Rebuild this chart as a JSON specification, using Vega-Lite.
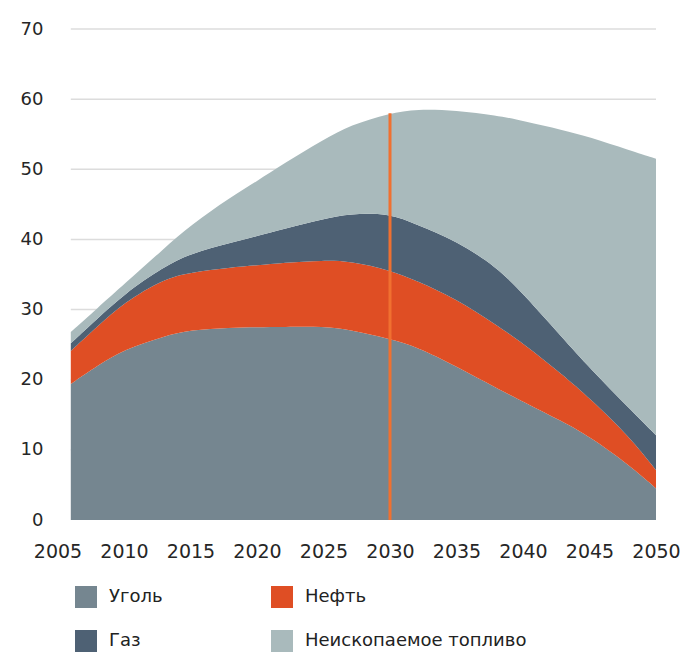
{
  "$schema": "https://vega.github.io/schema/vega-lite/v6.json",
  "autosize": {"type": "none"},
  "width": 598.5,
  "height": 491,
  "padding": {"left": 57.5, "top": 29, "right": 27, "bottom": 134},
  "background": "white",
  "config": {
    "view": {"stroke": null},
    "font": "DejaVu Sans",
    "axis": {"labelFont": "DejaVu Sans", "labelColor": "#262626"}
  },
  "datasets": {
    "emissions": [
      {"year": 2006, "source": "Уголь", "ord": 1, "value": 19.4},
      {"year": 2006, "source": "Нефть", "ord": 2, "value": 4.7},
      {"year": 2006, "source": "Газ", "ord": 3, "value": 1.1},
      {"year": 2006, "source": "Неископаемое топливо", "ord": 4, "value": 1.6},
      {"year": 2008, "source": "Уголь", "ord": 1, "value": 22.0},
      {"year": 2008, "source": "Нефть", "ord": 2, "value": 5.6},
      {"year": 2008, "source": "Газ", "ord": 3, "value": 1.1},
      {"year": 2008, "source": "Неископаемое топливо", "ord": 4, "value": 1.5},
      {"year": 2010, "source": "Уголь", "ord": 1, "value": 24.3},
      {"year": 2010, "source": "Нефть", "ord": 2, "value": 6.7},
      {"year": 2010, "source": "Газ", "ord": 3, "value": 1.2},
      {"year": 2010, "source": "Неископаемое топливо", "ord": 4, "value": 1.4},
      {"year": 2013, "source": "Уголь", "ord": 1, "value": 26.2},
      {"year": 2013, "source": "Нефть", "ord": 2, "value": 8.2},
      {"year": 2013, "source": "Газ", "ord": 3, "value": 1.7},
      {"year": 2013, "source": "Неископаемое топливо", "ord": 4, "value": 2.6},
      {"year": 2015, "source": "Уголь", "ord": 1, "value": 27.1},
      {"year": 2015, "source": "Нефть", "ord": 2, "value": 8.2},
      {"year": 2015, "source": "Газ", "ord": 3, "value": 2.7},
      {"year": 2015, "source": "Неископаемое топливо", "ord": 4, "value": 4.0},
      {"year": 2018, "source": "Уголь", "ord": 1, "value": 27.4},
      {"year": 2018, "source": "Нефть", "ord": 2, "value": 8.6},
      {"year": 2018, "source": "Газ", "ord": 3, "value": 3.5},
      {"year": 2018, "source": "Неископаемое топливо", "ord": 4, "value": 6.5},
      {"year": 2020, "source": "Уголь", "ord": 1, "value": 27.5},
      {"year": 2020, "source": "Нефть", "ord": 2, "value": 8.8},
      {"year": 2020, "source": "Газ", "ord": 3, "value": 4.2},
      {"year": 2020, "source": "Неископаемое топливо", "ord": 4, "value": 7.8},
      {"year": 2022, "source": "Уголь", "ord": 1, "value": 27.5},
      {"year": 2022, "source": "Нефть", "ord": 2, "value": 9.2},
      {"year": 2022, "source": "Газ", "ord": 3, "value": 4.8},
      {"year": 2022, "source": "Неископаемое топливо", "ord": 4, "value": 9.3},
      {"year": 2025, "source": "Уголь", "ord": 1, "value": 27.6},
      {"year": 2025, "source": "Нефть", "ord": 2, "value": 9.4},
      {"year": 2025, "source": "Газ", "ord": 3, "value": 5.9},
      {"year": 2025, "source": "Неископаемое топливо", "ord": 4, "value": 11.3},
      {"year": 2027, "source": "Уголь", "ord": 1, "value": 27.1},
      {"year": 2027, "source": "Нефть", "ord": 2, "value": 9.8},
      {"year": 2027, "source": "Газ", "ord": 3, "value": 6.8},
      {"year": 2027, "source": "Неископаемое топливо", "ord": 4, "value": 12.6},
      {"year": 2030, "source": "Уголь", "ord": 1, "value": 25.8},
      {"year": 2030, "source": "Нефть", "ord": 2, "value": 9.8},
      {"year": 2030, "source": "Газ", "ord": 3, "value": 8.1},
      {"year": 2030, "source": "Неископаемое топливо", "ord": 4, "value": 14.3},
      {"year": 2032, "source": "Уголь", "ord": 1, "value": 24.7},
      {"year": 2032, "source": "Нефть", "ord": 2, "value": 9.4},
      {"year": 2032, "source": "Газ", "ord": 3, "value": 8.0},
      {"year": 2032, "source": "Неископаемое топливо", "ord": 4, "value": 16.5},
      {"year": 2035, "source": "Уголь", "ord": 1, "value": 21.9},
      {"year": 2035, "source": "Нефть", "ord": 2, "value": 9.6},
      {"year": 2035, "source": "Газ", "ord": 3, "value": 8.3},
      {"year": 2035, "source": "Неископаемое топливо", "ord": 4, "value": 18.6},
      {"year": 2038, "source": "Уголь", "ord": 1, "value": 18.8},
      {"year": 2038, "source": "Нефть", "ord": 2, "value": 9.0},
      {"year": 2038, "source": "Газ", "ord": 3, "value": 8.3},
      {"year": 2038, "source": "Неископаемое топливо", "ord": 4, "value": 21.6},
      {"year": 2040, "source": "Уголь", "ord": 1, "value": 16.9},
      {"year": 2040, "source": "Нефть", "ord": 2, "value": 8.3},
      {"year": 2040, "source": "Газ", "ord": 3, "value": 7.1},
      {"year": 2040, "source": "Неископаемое топливо", "ord": 4, "value": 24.6},
      {"year": 2043, "source": "Уголь", "ord": 1, "value": 14.0},
      {"year": 2043, "source": "Нефть", "ord": 2, "value": 6.7},
      {"year": 2043, "source": "Газ", "ord": 3, "value": 5.2},
      {"year": 2043, "source": "Неископаемое топливо", "ord": 4, "value": 29.7},
      {"year": 2045, "source": "Уголь", "ord": 1, "value": 11.9},
      {"year": 2045, "source": "Нефть", "ord": 2, "value": 5.5},
      {"year": 2045, "source": "Газ", "ord": 3, "value": 4.3},
      {"year": 2045, "source": "Неископаемое топливо", "ord": 4, "value": 32.9},
      {"year": 2048, "source": "Уголь", "ord": 1, "value": 7.8},
      {"year": 2048, "source": "Нефть", "ord": 2, "value": 4.1},
      {"year": 2048, "source": "Газ", "ord": 3, "value": 4.0},
      {"year": 2048, "source": "Неископаемое топливо", "ord": 4, "value": 36.8},
      {"year": 2050, "source": "Уголь", "ord": 1, "value": 4.5},
      {"year": 2050, "source": "Нефть", "ord": 2, "value": 2.6},
      {"year": 2050, "source": "Газ", "ord": 3, "value": 5.0},
      {"year": 2050, "source": "Неископаемое топливо", "ord": 4, "value": 39.4}
    ],
    "gridlines": [{"v": 10}, {"v": 20}, {"v": 30}, {"v": 40}, {"v": 50}, {"v": 60}, {"v": 70}],
    "marker": [{"year": 2030, "bottom": 0, "top": 58}]
  },
  "layer": [
    {
      "data": {"name": "gridlines"},
      "mark": {"type": "rule", "color": "#dcdcdc", "strokeWidth": 1.5},
      "encoding": {
        "y": {"field": "v", "type": "quantitative"},
        "x": {"datum": 2006, "type": "quantitative"},
        "x2": {"datum": 2050}
      }
    },
    {
      "data": {"name": "emissions"},
      "mark": {"type": "area", "interpolate": "basis"},
      "encoding": {
        "x": {
          "field": "year", "type": "quantitative",
          "scale": {"domain": [2005, 2050], "nice": false, "zero": false},
          "axis": {"values": [2005, 2010, 2015, 2020, 2025, 2030, 2035, 2040, 2045, 2050], "format": "d", "title": null, "grid": false, "domain": false, "ticks": false, "labelPadding": 22, "labelFlush": false, "labelFontSize": 19}
        },
        "y": {
          "field": "value", "type": "quantitative", "stack": "zero",
          "scale": {"domain": [0, 70], "nice": false},
          "axis": {"values": [0, 10, 20, 30, 40, 50, 60, 70], "title": null, "grid": false, "domain": false, "ticks": false, "labelPadding": 14.5, "labelFontSize": 18}
        },
        "color": {
          "field": "source", "type": "nominal",
          "scale": {
            "domain": ["Уголь", "Нефть", "Газ", "Неископаемое топливо"],
            "range": ["#758690", "#df4e24", "#4e6174", "#a9babc"]
          },
          "legend": {
            "title": null, "orient": "none", "legendX": 17.5, "legendY": 557,
            "direction": "horizontal", "columns": 2, "columnPadding": 108, "rowPadding": 22,
            "padding": 0, "symbolType": "square", "symbolSize": 484, "symbolStrokeWidth": 0,
            "symbolOpacity": 1, "labelFontSize": 18, "labelFont": "DejaVu Sans", "labelColor": "#222222",
            "labelOffset": 12, "labelLimit": 400, "gridAlign": "each"
          }
        },
        "order": {"field": "ord", "type": "quantitative"}
      }
    },
    {
      "data": {"name": "marker"},
      "mark": {"type": "rule", "color": "#f07030", "strokeWidth": 3},
      "encoding": {
        "x": {"field": "year", "type": "quantitative"},
        "y": {"field": "bottom", "type": "quantitative"},
        "y2": {"field": "top"}
      }
    }
  ]
}
